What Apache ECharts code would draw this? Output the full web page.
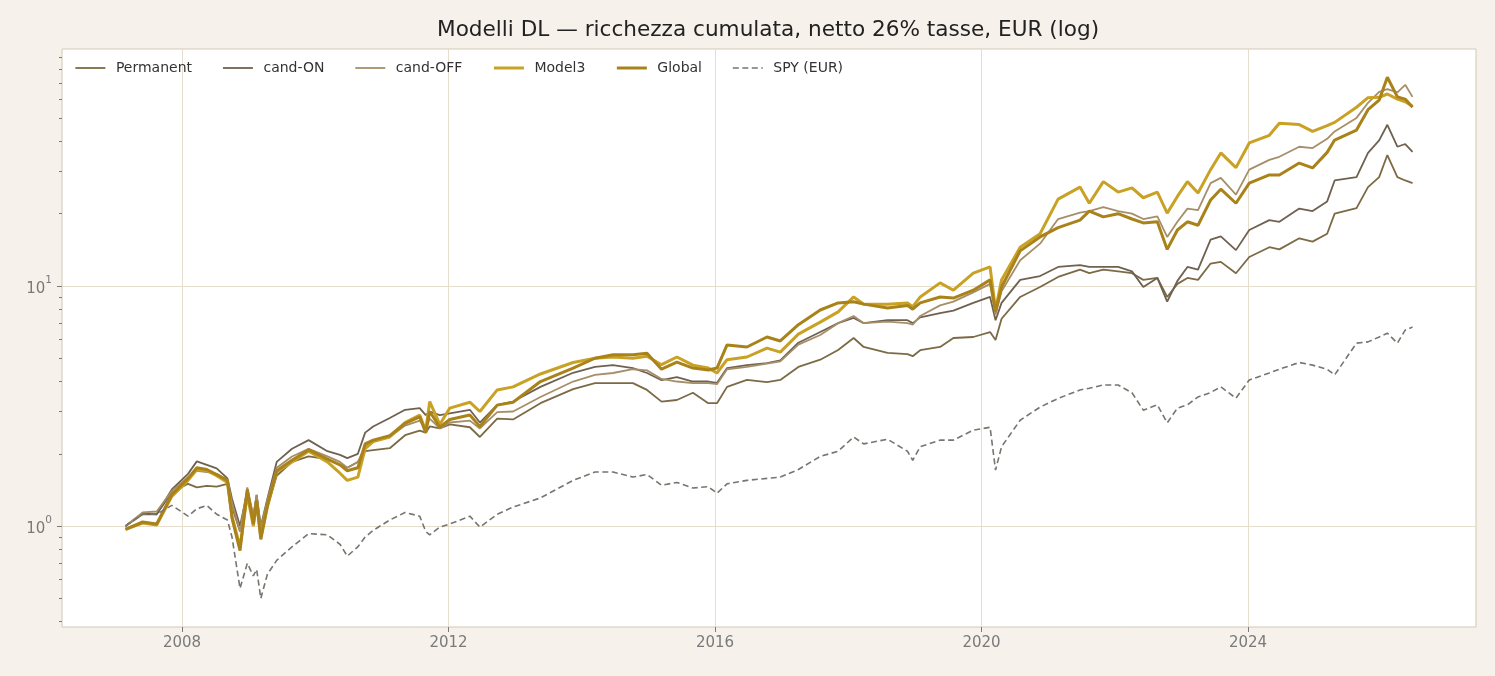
<!DOCTYPE html>
<html><head><meta charset="utf-8">
<script src="https://cdn.jsdelivr.net/npm/echarts@6/dist/echarts.min.js"></script>
<style>html,body{margin:0;padding:0;background:#f6f2eb;}#c{width:1495px;height:676px;}</style>
</head><body><div id="c"></div>
<script>
const dates = [
'2007-02-25','2007-05-30','2007-08-15','2007-11-06','2008-02-03','2008-03-22','2008-05-16','2008-07-09','2008-09-06','2008-10-01',
'2008-11-14','2008-12-24','2009-01-26','2009-02-13','2009-03-08','2009-04-13','2009-06-03','2009-08-26','2009-11-25','2010-03-08',
'2010-05-16','2010-06-25','2010-08-22','2010-10-01','2010-11-14','2011-02-13','2011-05-08','2011-07-27','2011-08-29','2011-09-20',
'2011-11-14','2012-01-08','2012-04-27','2012-06-21','2012-09-24','2012-12-20','2013-05-19','2013-11-14','2014-03-14','2014-06-21',
'2014-10-08','2014-12-24','2015-03-14','2015-06-06','2015-09-02','2015-11-25','2016-01-12','2016-03-07','2016-06-24','2016-10-12',
'2016-12-24','2017-04-02','2017-07-31','2017-11-06','2018-01-30','2018-03-26','2018-08-04','2018-11-21','2018-12-20','2019-01-30',
'2019-05-19','2019-07-31','2019-11-17','2020-02-17','2020-03-18','2020-04-20','2020-07-31','2020-11-17','2021-02-24','2021-06-24',
'2021-08-14','2021-10-30','2022-01-19','2022-04-05','2022-06-06','2022-08-22','2022-10-15','2022-12-10','2023-02-03','2023-04-02',
'2023-06-10','2023-08-05','2023-10-27','2024-01-08','2024-04-27','2024-06-21','2024-10-08','2024-12-20','2025-03-10','2025-04-20',
'2025-08-18','2025-10-20','2025-12-20','2026-02-03','2026-03-30','2026-05-12','2026-06-21'];

const permanent = [
1.00,1.12,1.12,1.38,1.50,1.45,1.47,1.46,1.50,1.20,
0.95,1.30,1.05,1.25,0.95,1.20,1.62,1.85,1.95,1.90,
1.80,1.75,1.85,2.05,2.07,2.11,2.39,2.50,2.45,2.60,
2.55,2.65,2.58,2.35,2.80,2.78,3.25,3.72,3.94,3.94,
3.94,3.69,3.30,3.35,3.59,3.25,3.25,3.80,4.06,3.98,
4.06,4.60,4.93,5.41,6.07,5.57,5.26,5.20,5.10,5.40,
5.57,6.07,6.13,6.43,5.95,7.30,9.00,9.90,10.9,11.7,
11.3,11.7,11.5,11.3,10.6,10.8,9.0,10.2,10.8,10.6,
12.4,12.6,11.3,13.2,14.5,14.2,15.8,15.3,16.5,20.0,
21.1,25.8,28.4,35.1,28.4,27.5,26.8];

const candOn = [
1.00,1.13,1.12,1.42,1.65,1.86,1.80,1.74,1.58,1.30,
1.00,1.40,1.10,1.35,1.00,1.30,1.85,2.10,2.28,2.05,
1.98,1.92,2.00,2.45,2.60,2.82,3.05,3.10,2.90,3.00,
2.90,2.95,3.05,2.70,3.20,3.30,3.80,4.35,4.60,4.68,
4.55,4.34,4.05,4.17,4.00,4.00,3.95,4.55,4.68,4.77,
4.90,5.80,6.43,7.00,7.36,7.00,7.20,7.20,7.00,7.40,
7.71,7.90,8.50,9.00,7.20,8.50,10.6,11.0,12.0,12.2,
12.0,12.0,12.0,11.5,9.9,10.8,8.6,10.5,12.0,11.7,
15.6,16.1,14.1,17.1,18.8,18.5,21.0,20.5,22.5,27.5,
28.4,35.8,40.4,46.9,38.0,39.0,36.2];

const candOff = [
1.00,1.14,1.15,1.40,1.60,1.70,1.68,1.65,1.55,1.25,
0.95,1.45,1.10,1.35,0.98,1.28,1.75,1.95,2.10,1.95,
1.85,1.75,1.85,2.15,2.25,2.35,2.62,2.75,2.55,2.80,
2.55,2.70,2.75,2.55,2.98,3.00,3.45,4.00,4.26,4.34,
4.50,4.45,4.10,4.00,3.94,3.94,3.90,4.50,4.60,4.75,
4.85,5.70,6.25,7.00,7.50,7.00,7.10,7.00,6.90,7.50,
8.30,8.60,9.40,10.2,7.60,9.50,12.8,15.0,19.0,20.2,
20.5,21.3,20.5,20.0,19.0,19.5,16.0,18.5,21.0,20.7,
26.8,28.2,24.0,30.5,33.5,34.5,38.0,37.5,41.0,44.0,
50.1,57.9,64.3,66.0,64.0,68.8,61.3];

const model3 = [
0.97,1.03,1.01,1.33,1.55,1.72,1.70,1.62,1.52,1.10,
0.82,1.35,1.00,1.25,0.90,1.20,1.68,1.85,2.05,1.85,
1.66,1.55,1.60,2.10,2.25,2.35,2.70,2.90,2.50,3.30,
2.65,3.10,3.28,3.00,3.69,3.80,4.30,4.80,5.00,5.06,
5.00,5.10,4.70,5.06,4.68,4.55,4.34,4.93,5.06,5.51,
5.30,6.30,7.07,7.80,9.00,8.40,8.40,8.50,8.20,9.00,
10.3,9.60,11.3,12.0,7.94,10.6,14.5,16.5,23.0,25.8,
22.1,27.2,24.6,25.6,23.3,24.6,20.1,23.6,27.2,24.4,
30.5,35.8,31.1,39.4,42.4,47.6,47.0,44.0,46.5,48.0,
55.5,60.8,61.0,63.0,60.0,58.5,56.0];

const globalM = [
0.97,1.04,1.02,1.35,1.58,1.75,1.72,1.64,1.55,1.08,
0.79,1.42,1.02,1.28,0.88,1.22,1.70,1.88,2.08,1.90,
1.80,1.70,1.75,2.20,2.28,2.38,2.68,2.85,2.45,3.00,
2.58,2.78,2.90,2.60,3.19,3.28,4.00,4.55,5.00,5.17,
5.17,5.25,4.50,4.82,4.55,4.47,4.55,5.68,5.57,6.13,
5.90,6.90,7.94,8.50,8.60,8.40,8.10,8.30,8.00,8.50,
9.00,8.90,9.60,10.6,7.80,9.90,14.0,16.0,17.5,18.8,
20.5,19.4,20.0,19.0,18.3,18.5,14.2,17.1,18.5,17.9,
22.8,25.3,22.1,26.8,29.0,29.0,32.5,31.0,36.0,40.5,
44.6,54.2,59.4,74.0,61.3,60.0,55.5];

const spy = [
1.00,1.12,1.12,1.22,1.10,1.18,1.22,1.12,1.06,0.90,
0.55,0.70,0.62,0.66,0.50,0.63,0.72,0.82,0.93,0.92,
0.84,0.75,0.82,0.90,0.96,1.06,1.14,1.10,0.95,0.92,
0.99,1.02,1.10,0.99,1.12,1.20,1.31,1.55,1.68,1.68,
1.60,1.64,1.48,1.52,1.44,1.46,1.37,1.50,1.55,1.58,
1.60,1.72,1.95,2.05,2.35,2.20,2.30,2.05,1.88,2.14,
2.28,2.28,2.51,2.58,1.71,2.14,2.76,3.13,3.40,3.69,
3.75,3.87,3.87,3.59,3.04,3.20,2.69,3.10,3.20,3.45,
3.60,3.80,3.41,4.06,4.34,4.50,4.80,4.68,4.50,4.26,
5.78,5.85,6.13,6.36,5.78,6.55,6.74];

const seriesNames = ['Permanent','cand-ON','cand-OFF','Model3','Global','SPY (EUR)'];
const xTickYears = [2008, 2012, 2016, 2020, 2024];
const yMajorTicks = [1, 10];
const yMinorTicks = [0.4,0.5,0.6,0.7,0.8,0.9,2,3,4,5,6,7,8,9,20,30,40,50,60,70,80,90];

const FONT = 'DejaVu Sans';
const GRID = '#e6ddcc';
const TICK = '#7a7a7a';

function ts(s) { const p = s.split('-').map(Number); return new Date(p[0], p[1] - 1, p[2]).getTime(); }
const xs = dates.map(ts);

function mk(name, arr, color, width, dash) {
  return {
    name: name, type: 'line', data: xs.map((t, i) => [t, arr[i]]),
    symbol: 'none', showSymbol: false, animation: false,
    lineStyle: { color: color, width: width, type: dash || 'solid' },
    itemStyle: { color: color },
    emphasis: { disabled: true }
  };
}

const xTickValues = xTickYears.map(y => new Date(y, 0, 1).getTime());
const legendWidths = [1.8, 1.8, 1.8, 3, 3, 1.6];

const chart = echarts.init(document.getElementById('c'));
chart.setOption({
  backgroundColor: '#f6f2eb',
  animation: false,
  title: {
    text: 'Modelli DL — ricchezza cumulata, netto 26% tasse, EUR (log)',
    left: 437, top: 19, padding: 0,
    textStyle: { fontSize: 21.6, fontWeight: 'normal', color: '#222', fontFamily: FONT }
  },
  legend: {
    data: seriesNames.map((n, i) => ({ name: n, lineStyle: { width: legendWidths[i] } })),
    left: 74.5, top: 61, padding: 0,
    itemWidth: 30, itemHeight: 14, itemGap: 30,
    itemStyle: { opacity: 0, borderWidth: 0 },
    textStyle: { fontSize: 14, color: '#333', fontFamily: FONT, padding: [0, 0, 0, 5.5] }
  },
  grid: { left: 62, right: 19, top: 49, bottom: 49, show: true, backgroundColor: '#ffffff', borderColor: '#d3c9b6', borderWidth: 1 },
  xAxis: {
    type: 'value', min: ts('2006-03-14'), max: ts('2027-06-04'), scale: true,
    axisLine: { show: false },
    axisTick: { show: true, customValues: xTickValues, length: 5, lineStyle: { color: TICK } },
    axisLabel: { customValues: xTickValues, formatter: v => String(new Date(v).getFullYear()), fontSize: 15, color: '#7a7a7a', fontFamily: FONT, margin: 9 },
    splitLine: { show: true, lineStyle: { color: GRID, width: 1 } }
  },
  yAxis: [{
    type: 'log', logBase: 10, min: 0.38, max: 97,
    axisLine: { show: false },
    axisTick: { show: true, customValues: yMajorTicks, length: 5, lineStyle: { color: TICK } },
    axisLabel: {
      customValues: yMajorTicks, margin: 10,
      formatter: v => '{b|10}{s|' + Math.round(Math.log10(v)) + '}',
      rich: {
        b: { fontSize: 15, color: '#7a7a7a', fontFamily: FONT, verticalAlign: 'bottom', lineHeight: 22 },
        s: { fontSize: 10.5, color: '#7a7a7a', fontFamily: FONT, verticalAlign: 'top', lineHeight: 22 }
      }
    },
    splitLine: { show: true, lineStyle: { color: GRID, width: 1 } }
  }, {
    type: 'log', logBase: 10, min: 0.38, max: 97, position: 'left',
    axisLine: { show: false },
    axisTick: { show: true, customValues: yMinorTicks, length: 3, lineStyle: { color: TICK } },
    axisLabel: { show: false },
    splitLine: { show: false }
  }],
  series: [
    mk('Permanent', permanent, '#7b6a45', 1.8),
    mk('cand-ON', candOn, '#6f6150', 1.8),
    mk('cand-OFF', candOff, '#a68e69', 1.8),
    mk('Model3', model3, '#c9a124', 3),
    mk('Global', globalM, '#a9821a', 3),
    mk('SPY (EUR)', spy, '#76756e', 1.6, [6, 3.5])
  ]
});
</script>
</body></html>
